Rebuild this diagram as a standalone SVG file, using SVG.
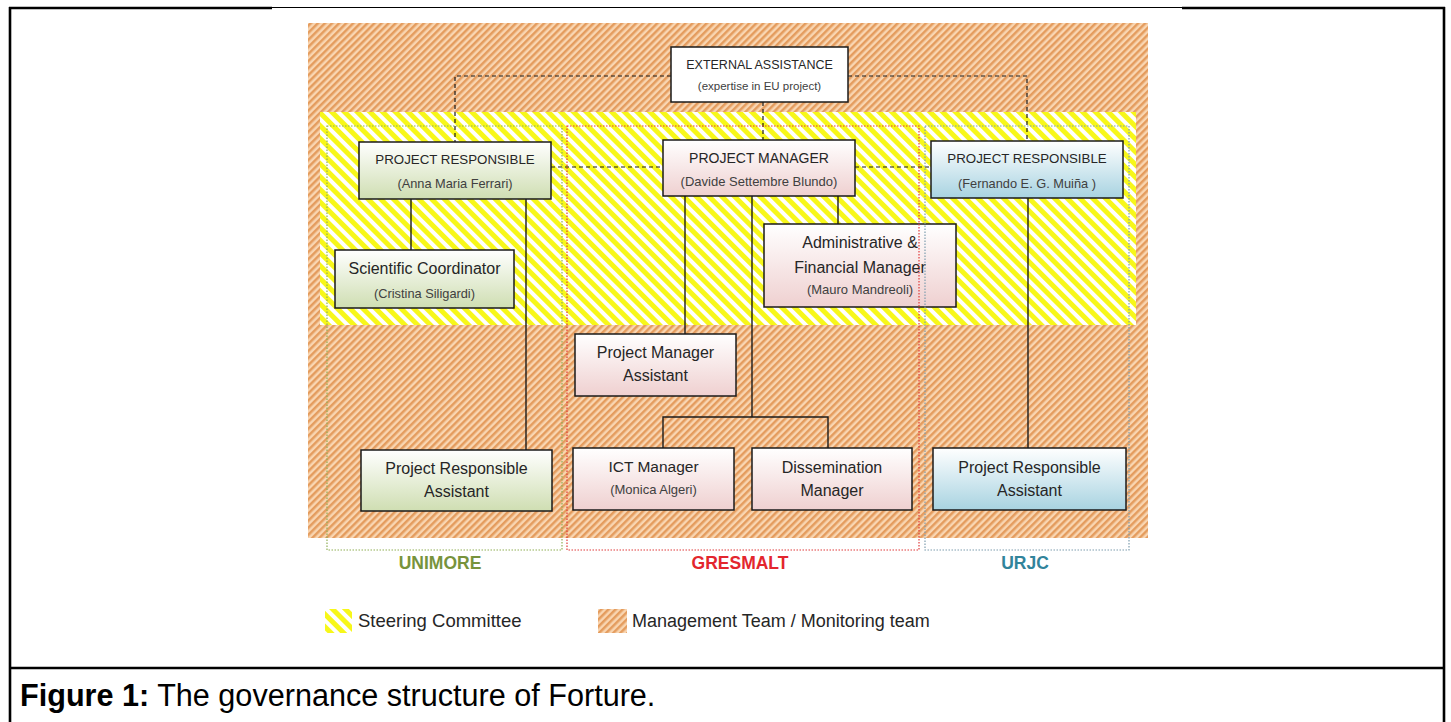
<svg xmlns="http://www.w3.org/2000/svg" width="1451" height="722" viewBox="0 0 1451 722">
<defs>
<pattern id="orangeHatch" width="5" height="5" patternUnits="userSpaceOnUse" patternTransform="rotate(45)">
<rect width="5" height="5" fill="#F9D6B2"/>
<rect width="2.5" height="5" fill="#E49C5E"/>
</pattern>
<pattern id="yellowHatch" width="9" height="9" patternUnits="userSpaceOnUse" patternTransform="rotate(-45)">
<rect width="9" height="9" fill="#FFFFFF"/>
<rect width="5" height="9" fill="#F7F71A"/>
</pattern>
<linearGradient id="gGreen" x1="0" y1="0" x2="0" y2="1">
<stop offset="0" stop-color="#FFFFFF"/>
<stop offset="1" stop-color="#CFDEB2"/>
</linearGradient>
<linearGradient id="gPink" x1="0" y1="0" x2="0" y2="1">
<stop offset="0" stop-color="#FFFFFF"/>
<stop offset="1" stop-color="#EFD0D0"/>
</linearGradient>
<linearGradient id="gBlue" x1="0" y1="0" x2="0" y2="1">
<stop offset="0" stop-color="#FFFFFF"/>
<stop offset="1" stop-color="#A8D3E1"/>
</linearGradient>
</defs>
<style>
text{font-family:"Liberation Sans",Arial,sans-serif;fill:#262626;text-anchor:middle}
.box{stroke:#1a1a1a;stroke-width:1.5}
.t{font-size:16px}
.cap{font-size:13.3px}
.nm{font-size:12.8px;fill:#404040}
.ln{stroke:#1a1a1a;stroke-width:1.4;fill:none}
.dash{stroke:#1a1a1a;stroke-width:1.2;fill:none;stroke-dasharray:4 3}
.grp{fill:none;stroke-width:1.2;stroke-dasharray:1.5 1.5}
.lbl{font-size:17.5px;font-weight:bold}
.frame{stroke:#000;fill:none}
</style>
<rect width="1451" height="722" fill="#FFFFFF"/>
<g id="frame">
<line class="frame" x1="10" y1="7" x2="10" y2="722" stroke-width="2.6"/>
<line class="frame" x1="1444" y1="7" x2="1444" y2="722" stroke-width="2.6"/>
<line class="frame" x1="9" y1="8" x2="272" y2="8" stroke-width="2.6"/>
<line class="frame" x1="272" y1="7.5" x2="1182" y2="7.5" stroke-width="1.2"/>
<line class="frame" x1="1182" y1="8" x2="1445" y2="8" stroke-width="2.6"/>
<line class="frame" x1="9" y1="668" x2="1445" y2="668" stroke-width="2.6"/>
</g>
<g id="areas">
<rect x="308" y="23" width="840" height="515" fill="url(#orangeHatch)"/>
<rect x="320" y="112" width="816" height="213" fill="url(#yellowHatch)"/>
</g>
<g id="connectors">
<path class="dash" d="M671 76 H455 V142"/>
<path class="dash" d="M848 76 H1027 V141"/>
<path class="dash" d="M763 102 V140"/>
<path class="dash" d="M551 167 H663"/>
<path class="dash" d="M855 167 H931"/>
<path class="ln" d="M411 199 V250"/>
<path class="ln" d="M526 199 V450"/>
<path class="ln" d="M1028 198 V448"/>
<path class="ln" d="M685 196 V334"/>
<path class="ln" d="M752 196 V417"/>
<path class="ln" d="M838 196 V224"/>
<path class="ln" d="M663 448 V417 H828 V448"/>
</g>
<g id="external-assistance">
<rect class="box" x="671" y="47" width="177" height="55" fill="#FFFFFF"/>
<text x="759.5" y="68.5" style="font-size:12.5px">EXTERNAL ASSISTANCE</text>
<text x="759.5" y="90" class="nm" style="font-size:11.5px">(expertise in EU project)</text>
</g>
<g id="project-manager">
<rect class="box" x="663" y="140" width="192" height="56" fill="url(#gPink)"/>
<text x="759" y="163" style="font-size:14px">PROJECT MANAGER</text>
<text x="759" y="185.5" class="nm" style="font-size:13px">(Davide Settembre Blundo)</text>
</g>
<g id="pr-unimore">
<rect class="box" x="359" y="142" width="192" height="57" fill="url(#gGreen)"/>
<text x="455" y="163.7" class="cap">PROJECT RESPONSIBLE</text>
<text x="455" y="187.5" class="nm">(Anna Maria Ferrari)</text>
</g>
<g id="scientific-coordinator">
<rect class="box" x="335" y="250" width="179" height="58" fill="url(#gGreen)"/>
<text x="424.5" y="273.5" class="t">Scientific Coordinator</text>
<text x="424.5" y="297.5" class="nm">(Cristina Siligardi)</text>
</g>
<g id="pra-unimore">
<rect class="box" x="361" y="450" width="191" height="61" fill="url(#gGreen)"/>
<text x="456.5" y="473.5" class="t">Project Responsible</text>
<text x="456.5" y="496.5" class="t">Assistant</text>
</g>
<g id="pr-urjc">
<rect class="box" x="931" y="141" width="192" height="57" fill="url(#gBlue)"/>
<text x="1027" y="162.7" class="cap">PROJECT RESPONSIBLE</text>
<text x="1027" y="187.5" class="nm">(Fernando E. G. Muiña )</text>
</g>
<g id="pra-urjc">
<rect class="box" x="933" y="448" width="193" height="62" fill="url(#gBlue)"/>
<text x="1029.5" y="472.5" class="t">Project Responsible</text>
<text x="1029.5" y="495.5" class="t">Assistant</text>
</g>
<g id="admin-financial">
<rect class="box" x="764" y="224" width="192" height="83" fill="url(#gPink)"/>
<text x="860" y="247.5" class="t">Administrative &amp;</text>
<text x="860" y="272.5" class="t">Financial Manager</text>
<text x="860" y="293.5" class="nm" style="font-size:13px">(Mauro Mandreoli)</text>
</g>
<g id="pm-assistant">
<rect class="box" x="575" y="334" width="161" height="62" fill="url(#gPink)"/>
<text x="655.5" y="357.5" class="t">Project Manager</text>
<text x="655.5" y="380.5" class="t">Assistant</text>
</g>
<g id="ict-manager">
<rect class="box" x="573" y="448" width="161" height="62" fill="url(#gPink)"/>
<text x="653.5" y="472" class="t" style="font-size:15.5px">ICT Manager</text>
<text x="653.5" y="493.5" class="nm" style="font-size:13px">(Monica Algeri)</text>
</g>
<g id="dissemination-manager">
<rect class="box" x="752" y="448" width="160" height="62" fill="url(#gPink)"/>
<text x="832" y="472.5" class="t">Dissemination</text>
<text x="832" y="495.5" class="t">Manager</text>
</g>
<g id="groups">
<rect class="grp" x="327" y="126" width="235" height="424" stroke="#8FAE55"/>
<rect class="grp" x="567" y="126" width="352" height="424" stroke="#E03A3A"/>
<rect class="grp" x="925" y="126" width="204" height="424" stroke="#7E9DAE"/>
<text x="440" y="569" class="lbl" style="fill:#77933C">UNIMORE</text>
<text x="740" y="569" class="lbl" style="fill:#E3262E">GRESMALT</text>
<text x="1025" y="569" class="lbl" style="fill:#31849B">URJC</text>
</g>
<g id="legend">
<rect x="325" y="609" width="27" height="24" fill="url(#yellowHatch)"/>
<text x="358" y="627" style="font-size:18.5px;text-anchor:start">Steering Committee</text>
<rect x="598" y="609" width="29" height="24" fill="url(#orangeHatch)"/>
<text x="632" y="627" style="font-size:18px;text-anchor:start">Management Team / Monitoring team</text>
</g>
<g id="caption">
<text x="20" y="706" style="font-size:30.6px;text-anchor:start;fill:#000"><tspan font-weight="bold">Figure 1:</tspan> The governance structure of Forture.</text>
</g>
</svg>
